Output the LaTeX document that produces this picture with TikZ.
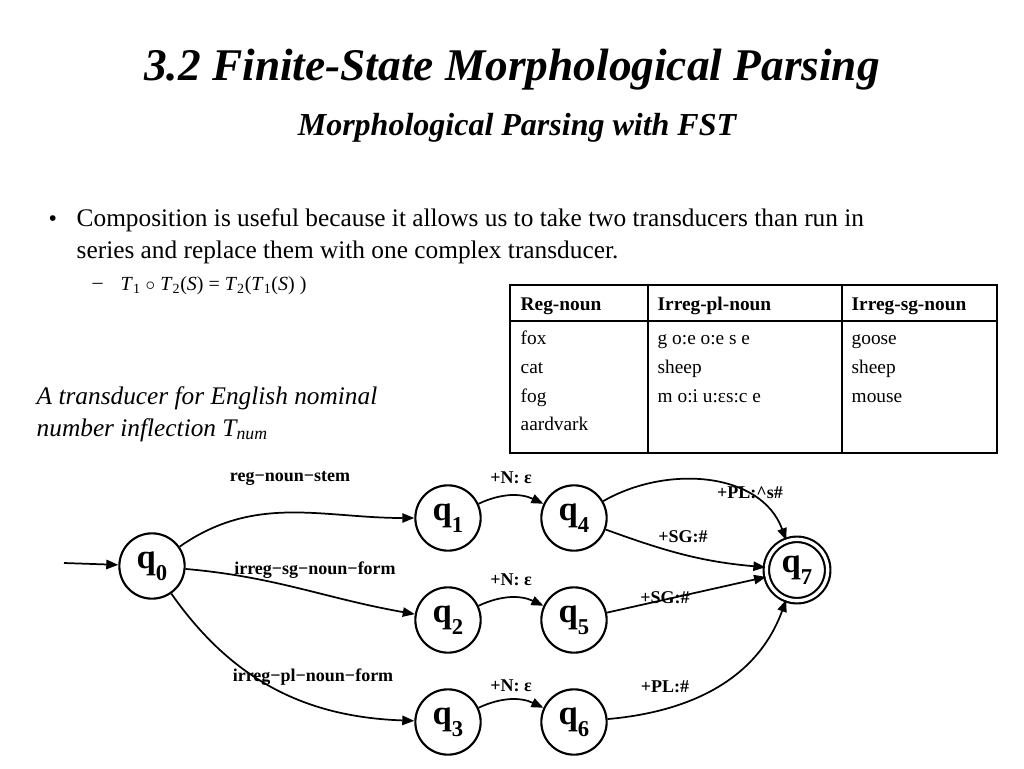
\documentclass[tikz,border=0pt]{standalone}
\usepackage{fontspec}
\setmainfont{Liberation Serif}
\usetikzlibrary{arrows.meta}

\newcommand{\qsub}[1]{q\raisebox{-0.35em}{\fontsize{17}{17}\selectfont #1}}
\tikzset{
	state/.style={draw, circle, line width=1.6pt, minimum size=49pt, inner sep=0pt,
		font=\fontsize{26}{26}\selectfont\bfseries},
	accept/.style={state, double, double distance=2.5pt, minimum size=46pt},
	trans/.style={-{Triangle[length=9pt,width=7pt]}, line width=1.3pt},
	lbl/.style={font=\fontsize{13.5}{13.5}\selectfont\bfseries},
	cell/.style={anchor=base west, font=\fontsize{14.5}{14.5}\selectfont},
}

\begin{document}
\begin{tikzpicture}[x=0.75pt,y=-0.75pt]
	\useasboundingbox (0,0) rectangle (1024,768);
	% title
	\node (title) at (512,70) {\fontsize{34}{34}\selectfont\bfseries\itshape 3.2 Finite-State Morphological Parsing};
	\node (subtitle) at (517,128) {\fontsize{24}{24}\selectfont\bfseries\itshape Morphological Parsing with FST};
	% bullet text
	\node[anchor=west] (bullet) at (44,221) {\fontsize{18}{18}\selectfont •};
	\node[anchor=west, align=left, font=\fontsize{19}{24}\selectfont] (body) at (72,236)
		{Composition is useful because it allows us to take two transducers than run in\\
		 series and replace them with one complex transducer.};
	\node[anchor=west] (dash) at (88,286) {\fontsize{15}{15}\selectfont –};
	\node[anchor=west, font=\fontsize{15}{15}\selectfont] (formula) at (116,286)
		{\textit{T}\textsubscript{1} $\circ$ \textit{T}\textsubscript{2}(\textit{S}) = \textit{T}\textsubscript{2}(\textit{T}\textsubscript{1}(\textit{S}) )};
	\node[anchor=west, align=left, font=\fontsize{19}{24}\selectfont\itshape] (caption) at (32,414)
		{A transducer for English nominal\\ number inflection \textit{T}\textsubscript{\textit{num}}};
	% table
	\draw[line width=1.8pt] (510,285) rectangle (997,453);
	\draw[line width=0.8pt] (510,321) -- (997,321);
	\draw[line width=0.8pt] (648,285) -- (648,453) (842,285) -- (842,453);
	\node[cell, font=\fontsize{14.5}{14.5}\selectfont\bfseries] (h1) at (516,310) {Reg-noun};
	\node[cell, font=\fontsize{14.5}{14.5}\selectfont\bfseries] (h2) at (653,310) {Irreg-pl-noun};
	\node[cell, font=\fontsize{14.5}{14.5}\selectfont\bfseries] (h3) at (847,310) {Irreg-sg-noun};
	\foreach \a/\b/\c [count=\i] in {fox/g o:e o:e s e/goose, cat/sheep/sheep, fog/m o:i u:εs:c e/mouse, aardvark//}
	{
		\node[cell] (r\i a) at (516,316+28.7*\i) {\a};
		\node[cell] (r\i b) at (653,316+28.7*\i) {\b};
		\node[cell] (r\i c) at (847,316+28.7*\i) {\c};
	}
	% automaton
	\node[state] (q0) at (152,566) {\qsub{0}};
	\node[state] (q1) at (448,518) {\qsub{1}};
	\node[state] (q4) at (574,518) {\qsub{4}};
	\node[state] (q2) at (448,620) {\qsub{2}};
	\node[state] (q5) at (574,620) {\qsub{5}};
	\node[state] (q3) at (448,722) {\qsub{3}};
	\node[state] (q6) at (574,722) {\qsub{6}};
	\node[accept] (q7) at (797,570) {\qsub{7}};
	\coordinate (start) at (64,563);
	\draw[trans] (start) -- (q0);
	\draw[trans] (q0) to[out=35,in=180] (q1);
	\draw[trans] (q0) to[out=-5,in=170] (q2);
	\draw[trans] (q0) to[out=-55,in=178] (q3);
	\draw[trans] (q1) to[bend left=25] (q4);
	\draw[trans] (q2) to[bend left=25] (q5);
	\draw[trans] (q3) to[bend left=25] (q6);
	\draw[trans] (q4) to[out=30,in=110] (q7);
	\draw[trans] (q4) to[out=-20,in=175] (q7);
	\draw[trans] (q5) -- (q7);
	\draw[trans] (q6) to[out=5,in=-110] (q7);
	\node[lbl] (l1) at (290,478) {reg−noun−stem};
	\node[lbl] (l2) at (315,570) {irreg−sg−noun−form};
	\node[lbl] (l3) at (313,677) {irreg−pl−noun−form};
	\node[lbl] (n1) at (511,478) {+N: ε};
	\node[lbl] (n2) at (511,580) {+N: ε};
	\node[lbl] (n3) at (511,686) {+N: ε};
	\node[lbl] (p1) at (750,493) {+PL:\^{}s\#};
	\node[lbl] (s1) at (683,537) {+SG:\#};
	\node[lbl] (s2) at (665,598) {+SG:\#};
	\node[lbl] (p2) at (665,687) {+PL:\#};
\end{tikzpicture}
\end{document}
